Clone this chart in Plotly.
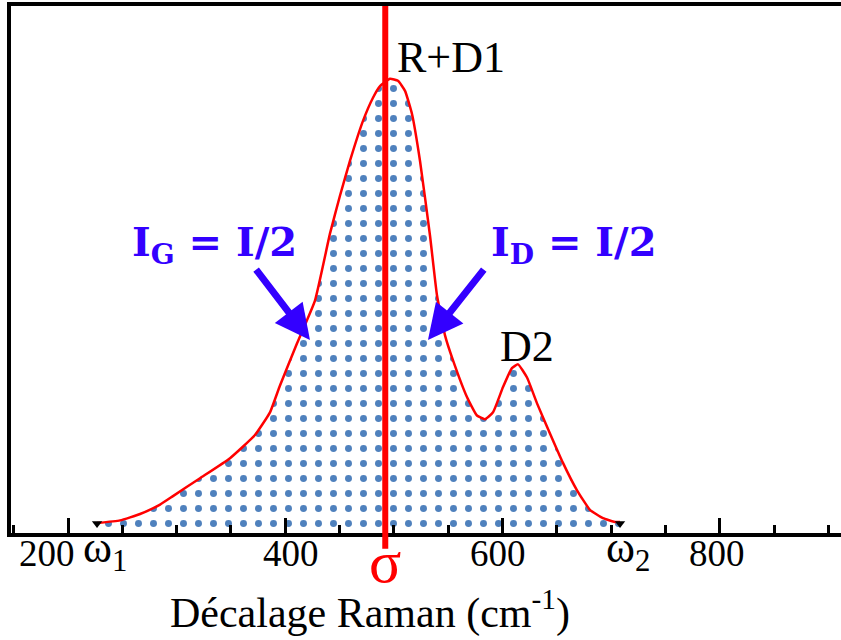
import plotly.graph_objects as go

# Raman spectrum (shift in cm-1, intensity in arbitrary units)
shift = [226.7, 247.9, 266.3, 284.7, 296.6, 321.5, 349.1, 372.1, 385.9, 395.1,
         410.8, 427.3, 441.1, 450.3, 459.5, 471.5, 480.7, 487.2, 496.4, 503.7,
         510.2, 516.6, 524.0, 533.2, 539.6, 547.0, 554.3, 567.2, 576.4, 583.8,
         591.2, 600.4, 608.6, 614.2, 622.5, 631.7, 643.6, 655.6, 668.5, 680.4,
         692.4, 703.4, 708.1]
intensity = [1.9, 2.4, 3.6, 5.4, 7.0, 10.4, 14.2, 18.6, 22.9, 28.0,
             36.0, 44.1, 56.8, 64.0, 70.6, 78.2, 82.6, 84.8, 86.2, 85.8,
             83.9, 79.5, 70.6, 56.4, 45.1, 37.5, 32.8, 25.8, 22.3, 21.6,
             22.9, 27.7, 31.3, 32.0, 29.5, 24.6, 18.9, 13.3, 8.1, 4.4,
             2.8, 2.1, 2.1]

tick_vals = [200, 400, 600, 800]
tick_text = ["200", "400", "600", "800"]
tick_label_shift = [-21, 6, -5, -3]

omega_pos = [226.7, 708.1]
omega_names = ["ω<sub>1</sub>", "ω<sub>2</sub>"]
omega_y = [1.8, 1.8]
sigma_pos = 492
peak_labels = ["R+D1", "D2"]
peak_x = [501, 622.5]
peak_y = [90.2, 35.4]
half_labels = ["I<sub>G</sub> = I/2", "I<sub>D</sub> = I/2"]
half_x = [334.4, 665.7]
half_y = [54.7, 54.7]
arrow_tip_x = [422.7, 531.3]
arrow_tip_y = [36.6, 36.6]

SERIF = "Liberation Serif"
BLUE = "#3300ff"

fig = go.Figure()
fig.add_trace(go.Scatter(
    x=shift, y=intensity, mode="lines",
    line=dict(color="#ff0000", width=2.5, shape="spline", smoothing=0.4),
    fill="tozeroy", fillcolor="rgba(255,255,255,0)",
    fillpattern=dict(shape=".", fgcolor="#4f81bd", bgcolor="rgba(255,255,255,0)",
                     size=15, solidity=0.17, fillmode="replace"),
    hoverinfo="skip", showlegend=False,
))
fig.add_trace(go.Scatter(
    x=omega_pos, y=omega_y, mode="markers",
    marker=dict(symbol="triangle-down", size=9, color="black"),
    hoverinfo="skip", showlegend=False,
))

# sigma vertical line
fig.add_shape(type="line", xref="x", yref="paper", x0=sigma_pos, x1=sigma_pos,
              y0=-0.03, y1=1.0, line=dict(color="#ff0000", width=6))

ann = []
for v, t, s in zip(tick_vals, tick_text, tick_label_shift):
    ann.append(dict(x=v, y=-0.038, xref="x", yref="paper", text=t, xshift=s,
                    showarrow=False, font=dict(family=SERIF, size=37, color="black"),
                    xanchor="center", yanchor="middle"))
ann.append(dict(x=sigma_pos, y=-0.055, xref="x", yref="paper", text="σ",
                showarrow=False, font=dict(family=SERIF, size=60, color="#ff0000"),
                xanchor="center", yanchor="middle"))
for xv, t in zip(omega_pos, omega_names):
    ann.append(dict(x=xv, y=0.0, xref="x", yref="paper", text=t,
                    showarrow=False, font=dict(family=SERIF, size=44, color="black"),
                    xanchor="left", yanchor="top", xshift=-16, yshift=12))
for xv, yv, t in zip(peak_x, peak_y, peak_labels):
    ann.append(dict(x=xv, y=yv, xref="x", yref="y", text=t, showarrow=False,
                    font=dict(family=SERIF, size=44, color="black"),
                    xanchor="left" if t == "R+D1" else "center", yanchor="middle"))
for xv, yv, t in zip(half_x, half_y, half_labels):
    ann.append(dict(x=xv, y=yv, xref="x", yref="y", text="<b>" + t + "</b>",
                    showarrow=False, font=dict(family="DejaVu Serif", size=40, color=BLUE),
                    xanchor="center", yanchor="middle"))
for xv, yv, axp in zip(arrow_tip_x, arrow_tip_y, [-55, 57]):
    ann.append(dict(x=xv, y=yv, xref="x", yref="y", text="", showarrow=True,
                    ax=axp, ay=-72, arrowcolor=BLUE, arrowwidth=7, arrowhead=2,
                    arrowsize=1.0, standoff=0))
ann.append(dict(x=478, y=-0.146, xref="x", yref="paper",
                text="Décalage Raman (cm<sup>-1</sup>)", showarrow=False,
                font=dict(family=SERIF, size=42, color="black"),
                xanchor="center", yanchor="middle"))

fig.update_layout(
    width=841, height=640,
    margin=dict(l=11, r=0, t=6, b=107),
    paper_bgcolor="white", plot_bgcolor="white",
    annotations=ann,
    xaxis=dict(range=[147.5, 911.5], showgrid=False, zeroline=False,
               showline=True, linecolor="black", linewidth=4, mirror=True,
               tickvals=tick_vals, showticklabels=False, ticks="inside",
               ticklen=15, tickwidth=3, tickcolor="black",
               minor=dict(dtick=50, tick0=0, ticks="inside", ticklen=8,
                          tickwidth=3, tickcolor="black")),
    yaxis=dict(range=[0, 100], showgrid=False, zeroline=False,
               showline=True, linecolor="black", linewidth=4,
               showticklabels=False, ticks=""),
)

fig.write_html("out.html", config={"displayModeBar": False},
               post_script="document.body.style.margin='0';")
